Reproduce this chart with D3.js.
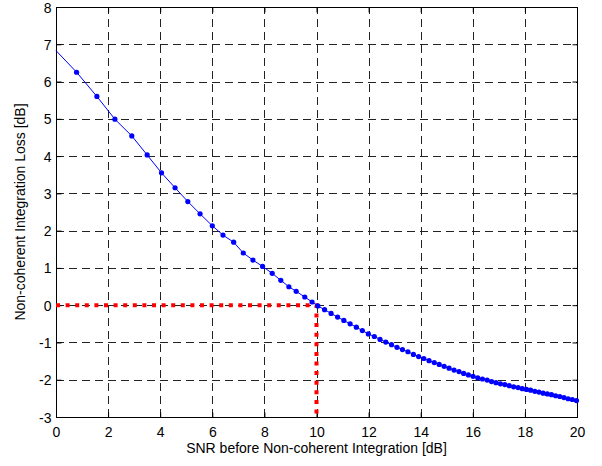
<!DOCTYPE html>
<html>
<head>
<meta charset="utf-8">
<script src="https://cdn.jsdelivr.net/npm/d3@7"></script>
<style>
  html, body { margin: 0; padding: 0; background: #fff; }
  svg { display: block; }
  text { font-family: Arial, "Liberation Sans", sans-serif; font-size: 14px; fill: #000; }
</style>
</head>
<body>
<svg id="chart" width="602" height="466"></svg>
<script>
// SNR before non-coherent integration [dB]
const snrDb = [
  0.00, 0.79, 1.57, 2.26, 2.91, 3.50, 4.05, 4.57, 5.06, 5.53, 6.00,
  6.41, 6.82, 7.19, 7.56, 7.93, 8.30, 8.63, 8.94, 9.22, 9.55, 9.83,
  10.05, 10.31, 10.56, 10.81, 11.05, 11.29, 11.53, 11.76, 11.99, 12.22,
  12.44, 12.66, 12.88, 13.09, 13.30, 13.51, 13.72, 13.92, 14.12, 14.32,
  14.52, 14.71, 14.90, 15.09, 15.28, 15.47, 15.65, 15.83, 16.01, 16.19,
  16.37, 16.55, 16.72, 16.89, 17.06, 17.23, 17.40, 17.57, 17.74, 17.90,
  18.06, 18.22, 18.38, 18.54, 18.70, 18.86, 19.02, 19.18, 19.34, 19.50,
  19.66, 19.82, 19.98
];
// Non-coherent integration loss [dB]
const lossDb = [
  6.83, 6.25, 5.60, 4.99, 4.54, 4.03, 3.55, 3.15, 2.78, 2.45, 2.13,
  1.88, 1.69, 1.40, 1.21, 1.04, 0.855, 0.667, 0.495, 0.372, 0.219, 0.085,
  -0.02, -0.12, -0.22, -0.32, -0.41, -0.50, -0.59, -0.68, -0.77, -0.84,
  -0.92, -0.99, -1.06, -1.13, -1.19, -1.25, -1.32, -1.38, -1.43, -1.49,
  -1.54, -1.59, -1.64, -1.69, -1.74, -1.78, -1.83, -1.87, -1.91, -1.95,
  -1.98, -2.01, -2.05, -2.08, -2.11, -2.13, -2.16, -2.19, -2.21, -2.24,
  -2.26, -2.28, -2.31, -2.33, -2.36, -2.38, -2.40, -2.43, -2.45, -2.48,
  -2.51, -2.53, -2.56
];
// Break-even guide: zero loss reached at 10 dB SNR
const guideSnr = [0, 10, 10];
const guideLoss = [0, 0, -3];

const xTicks = [0, 2, 4, 6, 8, 10, 12, 14, 16, 18, 20];
const yTicks = [-3, -2, -1, 0, 1, 2, 3, 4, 5, 6, 7, 8];

const svg = d3.select("#chart");
const plotLeft = 56, plotRight = 577, plotTop = 7, plotBottom = 417;

const x = d3.scaleLinear().domain([0, 20]).range([plotLeft, plotRight]);
const y = d3.scaleLinear().domain([-3, 8]).range([plotBottom, plotTop]);
const px = v => Math.round(v) + 0.5;
const plainNum = d => String(d);   // hyphen-minus labels

// dashed grid
const grid = svg.append("g").attr("stroke", "#222").attr("stroke-width", 1)
  .attr("stroke-dasharray", "8,5").attr("fill", "none");
grid.selectAll("line.v").data(xTicks.slice(1, -1)).join("line")
  .attr("class", "v")
  .attr("x1", d => px(x(d))).attr("x2", d => px(x(d)))
  .attr("y1", plotBottom).attr("y2", plotTop);
grid.selectAll("line.h").data(yTicks.slice(1, -1)).join("line")
  .attr("class", "h")
  .attr("x1", plotLeft).attr("x2", plotRight)
  .attr("y1", d => px(y(d))).attr("y2", d => px(y(d)));

// axes with inward ticks on all four sides
const tickLen = 5;
const axisB = svg.append("g").attr("transform", `translate(0,${px(plotBottom)})`)
  .call(d3.axisBottom(x).tickValues(xTicks).tickFormat(plainNum)
    .tickSizeInner(-tickLen).tickSizeOuter(0).tickPadding(10));
const axisT = svg.append("g").attr("transform", `translate(0,${px(plotTop)})`)
  .call(d3.axisTop(x).tickValues(xTicks).tickSizeInner(-tickLen).tickSizeOuter(0).tickFormat(""));
const axisL = svg.append("g").attr("transform", `translate(${px(plotLeft)},0)`)
  .call(d3.axisLeft(y).tickValues(yTicks).tickFormat(plainNum)
    .tickSizeInner(-tickLen).tickSizeOuter(0).tickPadding(6));
const axisR = svg.append("g").attr("transform", `translate(${px(plotRight)},0)`)
  .call(d3.axisRight(y).tickValues(yTicks).tickSizeInner(-tickLen).tickSizeOuter(0).tickFormat(""));
[axisB, axisT, axisL, axisR].forEach(a => {
  a.select(".domain").remove();
  a.selectAll(".tick line").attr("stroke", "#000");
  a.selectAll("text").attr("font-size", 14).attr("font-family", "Arial, 'Liberation Sans', sans-serif");
});
axisB.selectAll(".tick text").attr("y", 10).attr("dy", "0.71em");
axisL.selectAll(".tick text").attr("x", -5).attr("dy", "0.36em");

// frame
svg.append("rect")
  .attr("x", px(plotLeft)).attr("y", px(plotTop))
  .attr("width", Math.round(plotRight) - Math.round(plotLeft))
  .attr("height", Math.round(plotBottom) - Math.round(plotTop))
  .attr("fill", "none").attr("stroke", "#000").attr("stroke-width", 1);

// red dotted guide
svg.append("path")
  .datum(guideSnr.map((s, i) => [s, guideLoss[i]]))
  .attr("d", d3.line().x(d => x(d[0])).y(d => y(d[1])))
  .attr("fill", "none").attr("stroke", "#ff0000").attr("stroke-width", 4)
  .attr("stroke-dasharray", "4,5.6");

// loss curve with dot markers
const pts = snrDb.map((s, i) => [s, lossDb[i]]);
svg.append("path")
  .datum(pts)
  .attr("d", d3.line().x(d => x(d[0])).y(d => y(d[1])))
  .attr("fill", "none").attr("stroke", "#0000ff").attr("stroke-width", 1);
svg.append("g").attr("fill", "#0000ff")
  .selectAll("circle").data(pts.filter(d => d[0] > 0)).join("circle")
  .attr("cx", d => x(d[0])).attr("cy", d => y(d[1])).attr("r", 2.6);

// axis titles
svg.append("text")
  .attr("x", (plotLeft + plotRight) / 2).attr("y", 453)
  .attr("text-anchor", "middle")
  .text("SNR before Non-coherent Integration [dB]");
svg.append("text")
  .attr("transform", `translate(25,${(plotTop + plotBottom) / 2}) rotate(-90)`)
  .attr("text-anchor", "middle")
  .text("Non-coherent Integration Loss [dB]");
</script>
</body>
</html>
